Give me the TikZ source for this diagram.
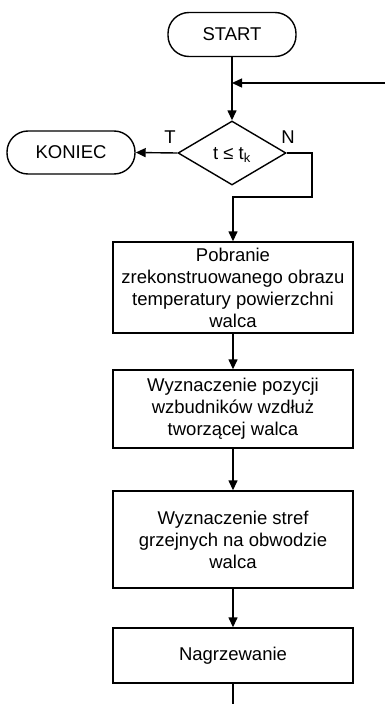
\documentclass[tikz,border=0pt]{standalone}
\usepackage{fontspec}
\setmainfont{Liberation Sans}
\usetikzlibrary{shapes.geometric,arrows.meta}
\begin{document}
\begin{tikzpicture}[x=1pt,y=-1pt,
  font=\fontsize{18.5}{22}\selectfont,
  every path/.style={line width=1.4pt},
  arr/.style={-{Triangle[length=10pt,width=9pt]}},
  term/.style={draw,rounded corners=21pt,minimum width=128pt,minimum height=44pt,inner sep=0pt},
  proc/.style={draw,minimum width=240pt,inner sep=0pt,align=center},
  dec/.style={draw,diamond,minimum width=108pt,minimum height=64pt,inner sep=0pt,aspect=1.7}]
\useasboundingbox (0,0) rectangle (385,704);
\node[term] (start) at (232,34.5) {START};
\node[term,minimum height=43pt] (koniec) at (71,152.5) {KONIEC};
\node[dec] (d) at (232,153) {};
\node (dl) at (232,155) {t ≤ t\textsubscript{k}};
\coordinate (fb) at (386,83);
\coordinate (fbj) at (232,83);
\node[proc,minimum height=91pt] (b1) at (233,287.5) {Pobranie\\zrekonstruowanego obrazu\\temperatury powierzchni\\walca};
\node[proc,minimum height=78pt] (b2) at (233,409) {Wyznaczenie pozycji\\wzbudników wzdłuż\\tworzącej walca};
\node[proc,minimum height=97pt] (b3) at (233,539.5) {Wyznaczenie stref\\grzejnych na obwodzie\\walca};
\node[proc,minimum height=55pt] (b4) at (233,655.5) {Nagrzewanie};
\coordinate (end) at (233,705);
\node (T) at (170,137) {T};
\node (N) at (288,137) {N};
\coordinate (n1) at (312,153);
\coordinate (n2) at (312,197);
\coordinate (n3) at (233,197);
\draw[arr] (start.south -| 232,0) -- (d.north);
\draw[arr] (fb) -- (fbj);
\draw[arr] (d.west) -- (koniec.east);
\draw[arr] (d.east) -- (n1) -- (n2) -- (n3) -- (b1.north);
\draw[arr] (b1.south) -- (b2.north);
\draw[arr] (b2.south) -- (b3.north);
\draw[arr] (b3.south) -- (b4.north);
\draw (b4.south) -- (end);
\end{tikzpicture}
\end{document}
